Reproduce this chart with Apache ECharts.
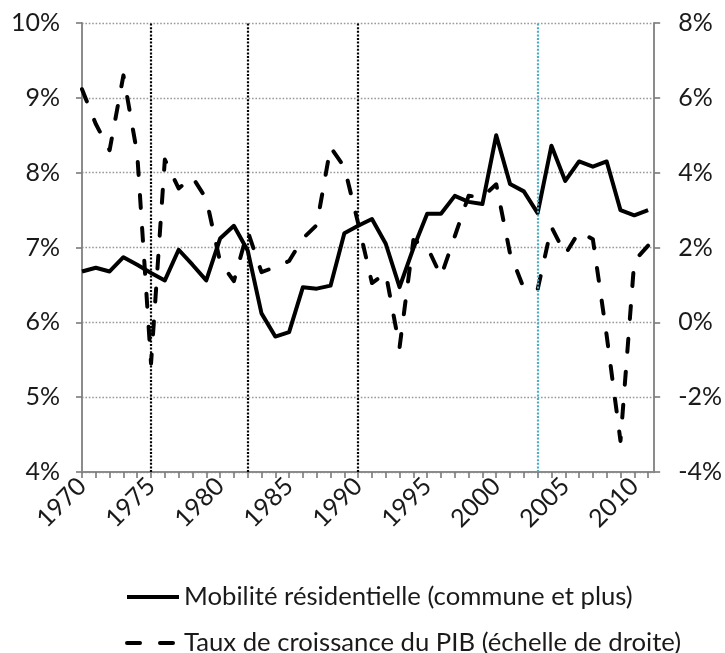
<!DOCTYPE html>
<html>
<head>
<meta charset="utf-8">
<script src="https://cdn.jsdelivr.net/npm/echarts@6/dist/echarts.min.js"></script>
<style>
  html, body { margin: 0; padding: 0; background: #fff; }
  #chart { width: 725px; height: 653px; }
</style>
</head>
<body>
<div id="chart"></div>
<script>
// années
var years = [1970, 1971, 1972, 1973, 1974, 1975, 1976, 1977, 1978, 1979,
             1980, 1981, 1982, 1983, 1984, 1985, 1986, 1987, 1988, 1989,
             1990, 1991, 1992, 1993, 1994, 1995, 1996, 1997, 1998, 1999,
             2000, 2001, 2002, 2003, 2004, 2005, 2006, 2007, 2008, 2009,
             2010, 2011];
var yearLabels = [1970, 1975, 1980, 1985, 1990, 1995, 2000, 2005, 2010];

// mobilité résidentielle (échelle de gauche, %)
var mobilite = [6.68, 6.73, 6.68, 6.87, 6.77, 6.66, 6.56, 6.97, 6.77, 6.56,
                7.12, 7.29, 6.96, 6.12, 5.81, 5.87, 6.47, 6.45, 6.49, 7.19,
                7.29, 7.38, 7.05, 6.47, 6.99, 7.45, 7.45, 7.69, 7.61, 7.58,
                8.50, 7.85, 7.75, 7.46, 8.36, 7.89, 8.15, 8.08, 8.15, 7.50,
                7.43, 7.50];

// taux de croissance du PIB (échelle de droite, %)
var pib = [6.23, 5.30, 4.60, 6.60, 4.50, -1.10, 4.35, 3.58, 3.88, 3.30,
           1.62, 1.10, 2.44, 1.34, 1.48, 1.64, 2.24, 2.60, 4.68, 4.15,
           2.65, 1.05, 1.31, -0.67, 2.20, 2.02, 1.23, 2.30, 3.38, 3.35,
           3.69, 1.84, 0.91, 0.88, 2.55, 1.82, 2.42, 2.22, -0.35, -3.17,
           1.64, 2.05];

// lignes verticales repères
var reperes = [1975, 1982, 1990];
var repereBleu = 2003;

var nomMobilite = 'Mobilité résidentielle (commune et plus)';
var nomPib = 'Taux de croissance du PIB (échelle de droite)';

var police = 'Lato, "Open Sans", sans-serif';
var gris = '#8c8c8c';

function paires(vals) {
    return years.map(function (y, i) { return [y, vals[i]]; });
}

var traits = reperes.map(function (y) { return { xAxis: y }; });
traits.push({ xAxis: repereBleu, lineStyle: { color: '#4bacc6' } });

var chart = echarts.init(document.getElementById('chart'));
chart.setOption({
    animation: false,
    grid: { left: 82, right: 67, top: 23, bottom: 181 },
    legend: [
        {
            data: [nomMobilite],
            left: 120, top: 579,
            itemWidth: 52, itemHeight: 14, itemGap: 0, itemTextGap: 4,
            textStyle: { fontFamily: police, fontSize: 25.7, color: '#1a1a1a' },
            lineStyle: { width: 4 },
            itemStyle: { opacity: 0 }
        },
        {
            data: [nomPib],
            left: 120, top: 625,
            itemWidth: 52, itemHeight: 14, itemGap: 0, itemTextGap: 4,
            textStyle: { fontFamily: police, fontSize: 25.7, color: '#1a1a1a' },
            lineStyle: { width: 4 },
            itemStyle: { opacity: 0 }
        }
    ],
    xAxis: {
        type: 'value',
        min: 1970,
        max: 2011.44,
        interval: 1,
        splitLine: { show: false },
        axisLine: { onZero: false, lineStyle: { color: gris, width: 2 } },
        axisTick: { show: true, length: 6, customValues: years, lineStyle: { color: '#7a7a7a', width: 1.6 } },
        axisLabel: {
            customValues: yearLabels,
            formatter: function (v) { return String(v); },
            rotate: 45,
            margin: 10,
            fontFamily: police,
            fontSize: 25,
            color: '#1a1a1a'
        }
    },
    yAxis: [
        {
            type: 'value',
            min: 4, max: 10, interval: 1,
            axisLine: { show: true, lineStyle: { color: gris, width: 2 } },
            axisTick: { show: true, length: 6, lineStyle: { color: '#7a7a7a', width: 1.6 } },
            axisLabel: {
                formatter: '{value}%', margin: 22,
                fontFamily: police, fontSize: 25, color: '#1a1a1a'
            },
            splitLine: { lineStyle: { color: '#999', width: 1.3, type: [1.6, 1.8] } }
        },
        {
            type: 'value',
            position: 'right',
            min: -4, max: 8, interval: 2,
            axisLine: { show: true, lineStyle: { color: gris, width: 2 } },
            axisTick: { show: true, length: 6, lineStyle: { color: '#7a7a7a', width: 1.6 } },
            axisLabel: {
                formatter: '{value}%', margin: 24,
                fontFamily: police, fontSize: 25, color: '#1a1a1a'
            },
            splitLine: { show: false }
        }
    ],
    series: [
        {
            name: nomMobilite,
            type: 'line',
            yAxisIndex: 0,
            data: paires(mobilite),
            symbol: 'none',
            lineStyle: { color: '#000', width: 4, join: 'round' },
            itemStyle: { color: '#000' },
            markLine: {
                silent: true,
                symbol: ['none', 'none'],
                label: { show: false },
                lineStyle: { color: '#000', width: 2.2, type: [2, 1.6] },
                data: traits
            },
            z: 3
        },
        {
            name: nomPib,
            type: 'line',
            yAxisIndex: 1,
            data: paires(pib),
            symbol: 'none',
            lineStyle: { color: '#000', width: 4, type: [13, 20], cap: 'round', join: 'round' },
            itemStyle: { color: '#000' },
            z: 3
        }
    ]
});
</script>
</body>
</html>
